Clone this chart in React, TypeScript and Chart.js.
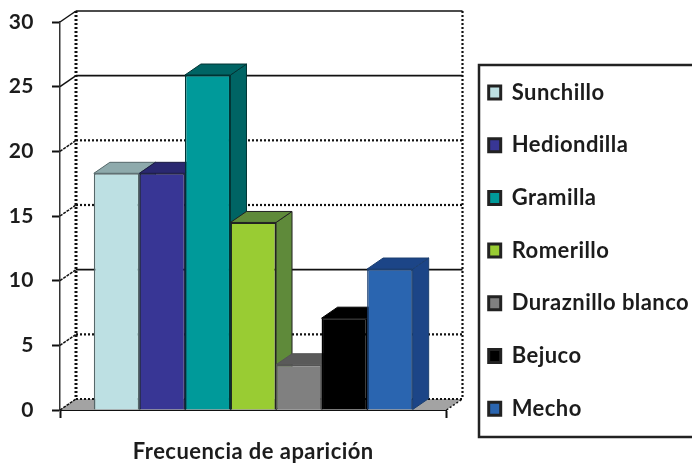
import React, { useEffect, useRef } from "react";
import { Chart, registerables } from "chart.js";

Chart.register(...registerables);

const categories = [""];
const seriesNames = ["Sunchillo", "Hediondilla", "Gramilla", "Romerillo", "Duraznillo blanco", "Bejuco", "Mecho"];
const seriesValues = [18.3, 18.3, 25.9, 14.5, 3.5, 7.1, 10.9];
const frontColors = ["#bde0e3", "#383695", "#009a9a", "#99cc33", "#808080", "#000000", "#2a65b0"];
const sideColors = ["#8eaaac", "#2a2870", "#006464", "#5f8a3a", "#5a5a5a", "#000000", "#1c4587"];
const edgeColors = ["#55686a", "#1a1a40", "#003333", "#222222", "#555555", "#000000", "#1c3f70"];
const solidTicks = [30, 25, 10];
const axisTitle = "Frecuencia de aparición";

const DX = 16;
const DY = 11;
const FONT = "Lato";
const INK = "#1c1c1c";

const wall3d = {
  id: "wall3d",
  afterLayout(chart: any) {
    const l = chart.legend;
    if (l) {
      l.left = 458;
      l.right = 692;
      l.top = 50.8;
      l.bottom = 466;
    }
  },
  beforeDraw(chart: any) {
    chart.ctx.letterSpacing = "0.45px";
  },
  beforeDatasetsDraw(chart: any) {
    const { ctx, chartArea: a, scales } = chart;
    const y = scales.y;
    ctx.save();
    ctx.fillStyle = "#a3a3a3";
    ctx.beginPath();
    ctx.moveTo(a.left, a.bottom);
    ctx.lineTo(a.right, a.bottom);
    ctx.lineTo(a.right + DX, a.bottom - DY);
    ctx.lineTo(a.left + DX, a.bottom - DY);
    ctx.closePath();
    ctx.fill();

    ctx.strokeStyle = "#111111";
    const line = (x1: number, y1: number, x2: number, y2: number, w: number, dash: number[]) => {
      ctx.lineWidth = w;
      ctx.setLineDash(dash);
      ctx.beginPath();
      ctx.moveTo(x1, y1);
      ctx.lineTo(x2, y2);
      ctx.stroke();
    };
    y.ticks.forEach((t: any) => {
      const py = y.getPixelForValue(t.value);
      const solid = solidTicks.includes(t.value);
      line(a.left + DX, py - DY, a.right + DX, py - DY, solid ? 1.6 : 2.2, solid ? [] : [2, 2]);
      line(a.left, py, a.left + DX, py - DY, 1.5, t.value >= 25 ? [] : [3, 1]);
    });
    line(a.left + DX, a.top - DY, a.left + DX, a.bottom - DY, 3, [2, 2]);
    line(a.right + DX, a.top - DY, a.right + DX, a.bottom - DY, 2.2, [2, 2]);
    line(a.right, a.bottom, a.right + DX, a.bottom - DY, 1.5, [2, 2]);
    ctx.setLineDash([]);

    chart.data.datasets.forEach((_: any, i: number) => {
      const b = chart.getDatasetMeta(i).data[0].getProps(["x", "y", "base", "width"], true);
      const x0 = b.x - b.width / 2;
      const x1 = b.x + b.width / 2;
      ctx.fillStyle = sideColors[i];
      ctx.strokeStyle = edgeColors[i];
      ctx.lineWidth = 1;
      ctx.beginPath();
      ctx.moveTo(x1, b.y);
      ctx.lineTo(x1 + DX, b.y - DY);
      ctx.lineTo(x1 + DX, b.base - DY);
      ctx.lineTo(x1, b.base);
      ctx.closePath();
      ctx.fill();
      ctx.stroke();
      ctx.beginPath();
      ctx.moveTo(x0, b.y);
      ctx.lineTo(x0 + DX, b.y - DY);
      ctx.lineTo(x1 + DX, b.y - DY);
      ctx.lineTo(x1, b.y);
      ctx.closePath();
      ctx.fill();
      ctx.stroke();
    });
    ctx.restore();
  },
  afterDraw(chart: any) {
    const { ctx } = chart;
    ctx.save();
    ctx.strokeStyle = "#222222";
    ctx.lineWidth = 2.5;
    ctx.strokeRect(479, 65, 230, 372);
    ctx.restore();
  },
};

export default function App() {
  const ref = useRef<HTMLCanvasElement>(null);
  useEffect(() => {
    const chart = new Chart(ref.current!, {
      type: "bar",
      data: {
        labels: categories,
        datasets: seriesNames.map((name, i) => ({
          label: name,
          data: [seriesValues[i]],
          backgroundColor: frontColors[i],
          borderColor: edgeColors[i],
          borderWidth: 1.5,
          categoryPercentage: 0.825,
          barPercentage: 1,
        })),
      },
      options: {
        responsive: false,
        animation: false,
        layout: { padding: { top: 22, left: 0, right: 12, bottom: 0 } },
        plugins: {
          tooltip: { enabled: false },
          title: { display: false },
          legend: {
            position: "right",
            align: "start",
            maxWidth: 246,
            labels: {
              boxWidth: 12,
              boxHeight: 13,
              padding: 30.7,
              color: INK,
              font: { family: FONT, weight: "bold", size: 22 },
              generateLabels: (c: any) =>
                c.data.datasets.map((d: any, i: number) => ({
                  text: d.label,
                  fillStyle: frontColors[i],
                  strokeStyle: "#222222",
                  lineWidth: 3,
                  fontColor: INK,
                  datasetIndex: i,
                  hidden: false,
                })),
            },
          },
        },
        scales: {
          x: {
            grid: { display: true, drawOnChartArea: false, offset: true, tickLength: 8, tickColor: "#111111", tickWidth: 2 },
            border: { display: true, color: "#111111", width: 2 },
            ticks: { display: false },
            title: {
              display: true,
              text: axisTitle,
              color: INK,
              font: { family: FONT, weight: "bold", size: 22 },
              padding: { top: 0, bottom: 1 },
            },
            afterFit: (s: any) => {
              s.height = 56;
              s.paddingLeft = 0;
              s.paddingRight = 0;
            },
          },
          y: {
            min: 0,
            max: 30,
            grid: { display: true, drawOnChartArea: false, tickLength: 8, tickColor: "#111111", tickWidth: 2 },
            border: { display: true, color: "#333333", width: 1.5, dash: [2, 2] },
            ticks: {
              stepSize: 5,
              padding: 18,
              color: INK,
              font: { family: FONT, weight: "bold", size: 21 },
            },
            afterFit: (s: any) => {
              s.width = 60;
              s.paddingTop = 0;
              s.paddingBottom = 0;
            },
          },
        },
      },
      plugins: [wall3d],
    } as any);
    return () => chart.destroy();
  }, []);
  return (
    <canvas
      ref={ref}
      width={692}
      height={466}
      style={{ position: "absolute", left: 0, top: 0, width: 692, height: 466, background: "#ffffff" }}
    />
  );
}
